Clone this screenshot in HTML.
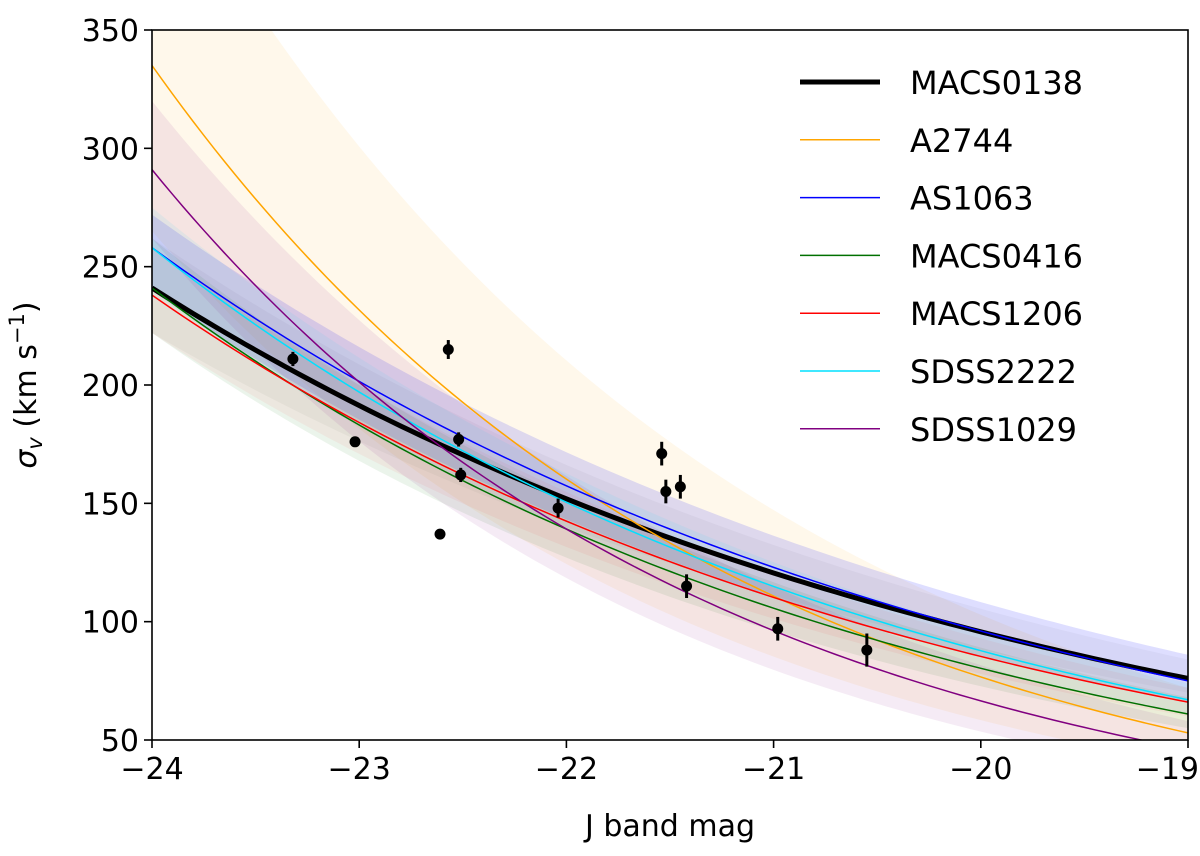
<!DOCTYPE html>
<html><head><meta charset="utf-8"><style>
body{margin:0;background:#fff}
svg{display:block;font-family:"DejaVu Sans","Liberation Sans",sans-serif}
</style></head><body>
<svg id="chart" width="1200" height="856">
<defs><clipPath id="clip"><rect x="152" y="30" width="1036" height="710"/></clipPath></defs>
<g id="bands" clip-path="url(#clip)"></g>
<g id="lines" clip-path="url(#clip)"></g>
<g id="points"></g>
<rect x="152" y="30" width="1036" height="710" fill="none" stroke="#000" stroke-width="1.6"/>
<g id="axes"></g>
<text x="670" y="836" font-size="30" text-anchor="middle">J band mag</text>
<text transform="translate(36,385) rotate(-90)" font-size="30" text-anchor="middle"><tspan font-style="italic">σ</tspan><tspan font-style="italic" font-size="21" dy="6">v</tspan><tspan dy="-6"> (km s</tspan><tspan font-size="21" dy="-12">−1</tspan><tspan dy="12">)</tspan></text>
<g id="legend"></g>
</svg>
<script>
const names=["MACS0138","A2744","AS1063","MACS0416","MACS1206","SDSS2222","SDSS1029"];
const colors=["#000000","orange","#0000ff","#007000","#ff0000","#00e0ff","#800080"];
const sigmaStart=[241,335,258,241,238,258,291];
const sigmaEnd=[76,53,75,61,66,67,46];
const bandUpStart=[262,430,272,262,258,275,320];
const bandUpEnd=[84,72,86,68,72,74,58];
const bandLoStart=[222,265,240,222,222,240,262];
const bandLoEnd=[70,40,66,55,60,61,36];
const ptMag=[-23.32,-23.02,-22.57,-22.52,-22.51,-22.61,-22.04,-21.54,-21.52,-21.45,-21.42,-20.98,-20.55];
const ptSig=[211,176,215,177,162,137,148,171,155,157,115,97,88];
const ptErr=[3,2,4,3,3,2,4,5,5,5,5,5,7];
const xTicks=[-24,-23,-22,-21,-20,-19];
const yTicks=[50,100,150,200,250,300,350];
const NS="http://www.w3.org/2000/svg";
const X=m=>152+(m+24)*207.2, Y=s=>740-(s-50)*710/300;
function mk(t,a,p){const e=document.createElementNS(NS,t);for(const k in a)e.setAttribute(k,a[k]);p.appendChild(e);return e;}
const curve=(s0,s1,m)=>s0*Math.pow(s1/s0,(m+24)/5);
const bands=document.getElementById('bands'),lines=document.getElementById('lines');
for(let i=0;i<names.length;i++){
  let up=[],lo=[],ln=[];
  for(let k=0;k<=100;k++){const m=-24+k*0.05;
    up.push(X(m)+','+Y(curve(bandUpStart[i],bandUpEnd[i],m)));
    lo.unshift(X(m)+','+Y(curve(bandLoStart[i],bandLoEnd[i],m)));
    ln.push(X(m)+','+Y(curve(sigmaStart[i],sigmaEnd[i],m)));}
  const b=mk('polygon',{points:up.concat(lo).join(' '),fill:i==0?'#888':colors[i],'fill-opacity':i==2?0.13:(i==4?0.05:0.08)},bands);
  
  
  const l=mk('polyline',{points:ln.join(' '),fill:'none',stroke:colors[i],'stroke-width':i==0?5:1.5},lines);
  
  
}
const pts=document.getElementById('points');
for(let i=0;i<ptMag.length;i++){
  const g=mk('g',{},pts);
  
  
  mk('line',{x1:X(ptMag[i]),x2:X(ptMag[i]),y1:Y(ptSig[i]-ptErr[i]),y2:Y(ptSig[i]+ptErr[i]),stroke:'#000','stroke-width':3},g);
  mk('circle',{cx:X(ptMag[i]),cy:Y(ptSig[i]),r:5.5,fill:'#000'},g);
}
const ax=document.getElementById('axes');
xTicks.forEach((t,i)=>{mk('line',{x1:X(t),x2:X(t),y1:740,y2:748,stroke:'#000','stroke-width':1.6},ax);
  const last=i==xTicks.length-1;
  const tx=mk('text',{x:last?1199:X(t),y:779,'font-size':30,'text-anchor':last?'end':'middle'},ax);tx.textContent=String(t).replace('-','−');
  
  });
yTicks.forEach(t=>{mk('line',{x1:144,x2:152,y1:Y(t),y2:Y(t),stroke:'#000','stroke-width':1.6},ax);
  const tx=mk('text',{x:139,y:Y(t)+11,'font-size':30,'text-anchor':'end'},ax);tx.textContent=t;
  
  });
const lg=document.getElementById('legend');
names.forEach((n,i)=>{const y=82+i*57.8;const g=mk('g',{},lg);
  
  
  mk('line',{x1:800,x2:880,y1:y,y2:y,stroke:colors[i],'stroke-width':i==0?5:1.5},g);
  const t=mk('text',{x:910,y:y+12,'font-size':32},g);t.textContent=n;});
</script>
</body></html>
